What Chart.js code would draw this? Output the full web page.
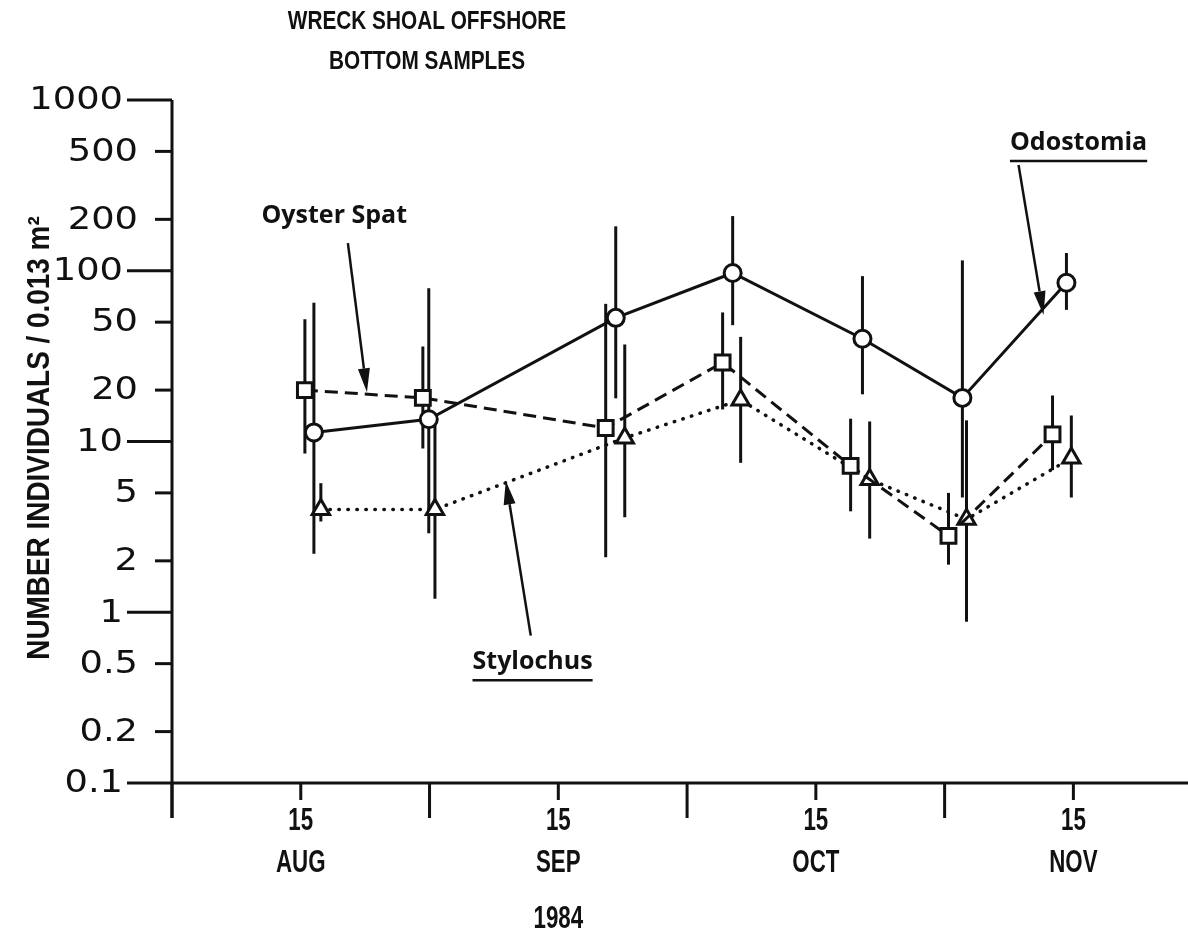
<!DOCTYPE html>
<html>
<head>
<meta charset="utf-8">
<title>Wreck Shoal offshore - bottom samples</title>
<script src="https://cdn.jsdelivr.net/npm/chart.js@4.4.1/dist/chart.umd.min.js"></script>
<style>
  html, body { margin: 0; padding: 0; background: #fff; overflow: hidden; }
  canvas { display: block; }
</style>
</head>
<body>
<canvas id="density-chart" width="1188" height="935"></canvas>
<script>
// x is measured in months from 1 Aug 1984 (0 = Aug 1, 0.5 = Aug 15, 1 = Sep 1 ...)
const titleLines = ['WRECK SHOAL OFFSHORE', 'BOTTOM SAMPLES'];
const yTitle = 'NUMBER INDIVIDUALS / 0.013 m\u00B2';
const xTitle = '1984';
const monthNames = ['AUG', 'SEP', 'OCT', 'NOV'];
const midMonthLabel = '15';
const yTicks = [0.1, 0.2, 0.5, 1, 2, 5, 10, 20, 50, 100, 200, 500, 1000];
const yTickLabels = ['0.1', '0.2', '0.5', '1', '2', '5', '10', '20', '50', '100', '200', '500', '1000'];
const yMajor = [0.1, 1, 10, 100, 1000];

// Odostomia (circles, solid)
const odoX = [0.551, 0.997, 1.723, 2.177, 2.681, 3.069, 3.473];
const odoY = [11.3, 13.5, 53, 97, 40, 18, 85];
const odoLow = [2.2, 2.9, 17.9, 48, 18.9, 4.7, 59];
const odoHigh = [65, 79, 182, 209, 93, 115, 127];

// Oyster spat (squares, dashed)
const spatX = [0.516, 0.974, 1.684, 2.138, 2.635, 3.015, 3.419];
const spatY = [20, 18, 12, 29, 7.2, 2.8, 11];
const spatLow = [8.5, 9.1, 2.1, 15.4, 3.9, 1.9, 6.8];
const spatHigh = [52, 36, 64, 57, 13.6, 5.0, 18.6];

// Stylochus (triangles, dotted)
const styX = [0.578, 1.021, 1.758, 2.208, 2.709, 3.085, 3.492];
const styY = [4.0, 4.0, 10.5, 17.5, 6.0, 3.5, 8.0];
const styLow = [3.4, 1.2, 3.6, 7.5, 2.7, 0.88, 4.7];
const styHigh = [5.7, 13.3, 37, 41, 13.1, 13.3, 14.2];

// labels with arrows, in data units (month, count)
const noteText = ['Oyster Spat', 'Stylochus', 'Odostomia'];
const noteAt = [[0.63, 210], [1.40, 0.51], [3.52, 560]];
const noteUnderline = [false, true, true];
const arrowFrom = [[0.683, 145], [1.393, 0.73], [3.287, 416]];
const arrowTo = [[0.757, 19.4], [1.296, 5.9], [3.384, 55]];

const ink = '#111';
const sans = '"Liberation Sans", Arial, sans-serif';

const pts = (xs, ys, lo, hi) => xs.map((x, i) => ({ x: x, y: ys[i], lo: lo[i], hi: hi[i] }));

// squeeze text sideways to get the condensed look of the original lettering
function squeezed(ctx, text, x, y, sx) {
  ctx.save();
  ctx.translate(x, y);
  ctx.scale(sx, 1);
  ctx.fillText(text, 0, 0);
  ctx.restore();
}

const errorBars = {
  id: 'errorBars',
  beforeDatasetsDraw(chart) {
    const { ctx, scales: { x, y } } = chart;
    ctx.save();
    ctx.strokeStyle = ink;
    ctx.lineWidth = 3;
    chart.data.datasets.forEach(ds => {
      ds.data.forEach(p => {
        const px = x.getPixelForValue(p.x);
        ctx.beginPath();
        ctx.moveTo(px, y.getPixelForValue(p.hi));
        ctx.lineTo(px, y.getPixelForValue(p.lo));
        ctx.stroke();
      });
    });
    ctx.restore();
  }
};

function arrow(ctx, x1, y1, x2, y2) {
  const ang = Math.atan2(y2 - y1, x2 - x1);
  const len = 24, half = 6;
  const bx = x2 - Math.cos(ang) * len, by = y2 - Math.sin(ang) * len;
  ctx.beginPath();
  ctx.moveTo(x1, y1);
  ctx.lineTo(bx, by);
  ctx.stroke();
  ctx.beginPath();
  ctx.moveTo(x2, y2);
  ctx.lineTo(bx + Math.sin(ang) * half, by - Math.cos(ang) * half);
  ctx.lineTo(bx - Math.sin(ang) * half, by + Math.cos(ang) * half);
  ctx.closePath();
  ctx.fill();
}

const chartDecor = {
  id: 'chartDecor',
  afterDraw(chart) {
    const { ctx, chartArea: area, scales: { x, y } } = chart;
    ctx.save();
    ctx.fillStyle = ink;
    ctx.strokeStyle = ink;

    // title
    ctx.font = 'bold 26px ' + sans;
    ctx.textAlign = 'center';
    ctx.textBaseline = 'middle';
    squeezed(ctx, titleLines[0], 427, 22, 0.8);
    squeezed(ctx, titleLines[1], 427, 62, 0.8);

    // axis lines
    ctx.lineWidth = 3;
    ctx.beginPath();
    ctx.moveTo(area.left, y.getPixelForValue(yTicks[yTicks.length - 1]));
    ctx.lineTo(area.left, area.bottom + 35);
    ctx.moveTo(area.left, area.bottom);
    ctx.lineTo(area.right, area.bottom);
    ctx.stroke();

    // y ticks + labels
    ctx.textAlign = 'right';
    ctx.font = '32px "DejaVu Sans", sans-serif';
    yTicks.forEach((v, i) => {
      const py = y.getPixelForValue(v);
      const major = yMajor.includes(v);
      const len = major ? 45 : 17;
      ctx.beginPath();
      ctx.moveTo(area.left - len, py);
      ctx.lineTo(area.left, py);
      ctx.stroke();
      squeezed(ctx, yTickLabels[i], area.left - (major ? 49 : 34), py + 1, 1.15);
    });

    // x ticks + labels
    ctx.textAlign = 'center';
    ctx.font = 'bold 31px ' + sans;
    monthNames.forEach((name, m) => {
      const pb = x.getPixelForValue(m), pm = x.getPixelForValue(m + 0.5);
      ctx.beginPath();
      ctx.moveTo(pb, area.bottom);
      ctx.lineTo(pb, area.bottom + 35);
      ctx.moveTo(pm, area.bottom);
      ctx.lineTo(pm, area.bottom + 17);
      ctx.stroke();
      squeezed(ctx, midMonthLabel, pm, area.bottom + 38, 0.72);
      squeezed(ctx, name, pm, area.bottom + 80, 0.72);
    });
    squeezed(ctx, xTitle, x.getPixelForValue(1.5), area.bottom + 136, 0.72);

    // y title
    ctx.save();
    ctx.translate(40, 438);
    ctx.rotate(-Math.PI / 2);
    ctx.font = 'bold 31px ' + sans;
    squeezed(ctx, yTitle, 0, 0, 0.9);
    ctx.restore();

    // series labels with arrows
    ctx.font = 'bold 25px "Open Sans", sans-serif';
    ctx.lineWidth = 2.5;
    noteText.forEach((t, i) => {
      const cx = x.getPixelForValue(noteAt[i][0]), cy = y.getPixelForValue(noteAt[i][1]);
      ctx.fillText(t, cx, cy);
      if (noteUnderline[i]) {
        const w = ctx.measureText(t).width;
        ctx.beginPath();
        ctx.moveTo(cx - w / 2, cy + 18);
        ctx.lineTo(cx + w / 2, cy + 18);
        ctx.stroke();
      }
      arrow(ctx,
        x.getPixelForValue(arrowFrom[i][0]), y.getPixelForValue(arrowFrom[i][1]),
        x.getPixelForValue(arrowTo[i][0]), y.getPixelForValue(arrowTo[i][1]));
    });
    ctx.restore();
  }
};

const common = {
  showLine: true,
  borderColor: ink,
  borderWidth: 3,
  pointBorderColor: ink,
  pointBackgroundColor: '#fff',
  pointBorderWidth: 3,
  pointHoverRadius: 0
};

new Chart(document.getElementById('density-chart').getContext('2d'), {
  type: 'scatter',
  data: {
    datasets: [
      Object.assign({}, common, {
        label: 'Odostomia', data: pts(odoX, odoY, odoLow, odoHigh),
        pointStyle: 'circle', pointRadius: 8.5
      }),
      Object.assign({}, common, {
        label: 'Oyster Spat', data: pts(spatX, spatY, spatLow, spatHigh),
        borderDash: [13, 7], pointStyle: 'rect', pointRadius: 10.5
      }),
      Object.assign({}, common, {
        label: 'Stylochus', data: pts(styX, styY, styLow, styHigh),
        borderDash: [0.5, 8.5], borderCapStyle: 'round', borderWidth: 3.5,
        pointStyle: 'triangle', pointRadius: 10
      })
    ]
  },
  options: {
    responsive: false,
    animation: false,
    layout: { autoPadding: false, padding: { top: 100, left: 0, right: 0, bottom: 0 } },
    plugins: { legend: { display: false }, tooltip: { enabled: false }, title: { display: false } },
    scales: {
      x: {
        type: 'linear', min: 0, max: 3.945,
        grid: { display: false }, border: { display: false },
        ticks: { display: false },
        afterFit: s => { s.height = 152; }
      },
      y: {
        type: 'logarithmic', min: 0.1, max: 1000,
        grid: { display: false }, border: { display: false },
        ticks: { display: false },
        afterFit: s => { s.width = 172; }
      }
    }
  },
  plugins: [errorBars, chartDecor]
});
</script>
</body>
</html>
